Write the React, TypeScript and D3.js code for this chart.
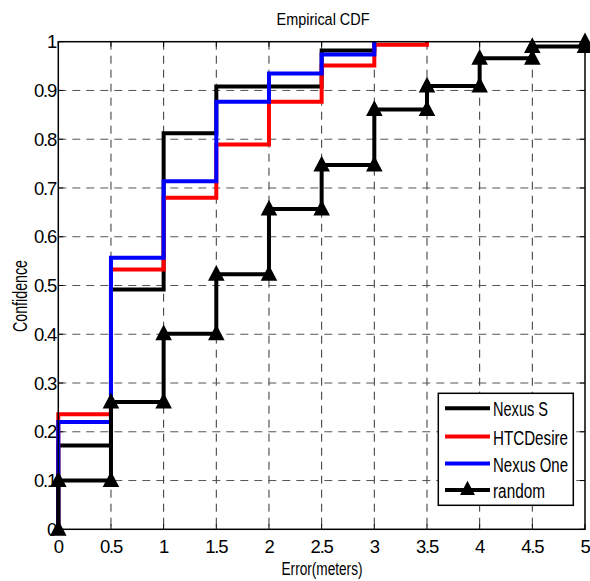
import React from "react";
import * as d3 from "d3";

const xTicks = [0, 0.5, 1, 1.5, 2, 2.5, 3, 3.5, 4, 4.5, 5];
const yTicks = [0, 0.1, 0.2, 0.3, 0.4, 0.5, 0.6, 0.7, 0.8, 0.9, 1];

const nexusSX = [0, 0, 0.5, 1, 1.5, 2.5, 3];
const nexusSY = [0, 0.172, 0.492, 0.812, 0.908, 0.982, 1];
const htcX = [0, 0, 0.5, 1, 1.5, 2, 2.5, 3, 3.5];
const htcY = [0, 0.236, 0.533, 0.68, 0.789, 0.877, 0.951, 0.994, 1];
const nexusOneX = [0, 0, 0.5, 1, 1.5, 2, 2.5, 3];
const nexusOneY = [0, 0.22, 0.557, 0.714, 0.877, 0.935, 0.974, 1];
const randomX = [0, 0, 0.5, 1, 1.5, 2, 2.5, 3, 3.5, 4, 4.5, 5];
const randomY = [0, 0.1, 0.261, 0.401, 0.523, 0.657, 0.747, 0.861, 0.909, 0.966, 0.99, 1];

const seriesNames = ["Nexus S", "HTCDesire", "Nexus One", "random"];
const seriesColors = ["#000000", "#ff0000", "#0000ff", "#000000"];
const legendWidths = [55, 75, 75, 52];

const W = 590, H = 581;
const L = 58.3, R = 585, T = 41.7, B = 529.3;
const FONT = "'Liberation Sans', Arial, Helvetica, sans-serif";

export default function App() {
  const x = d3.scaleLinear().domain([0, 5]).range([L, R]);
  const y = d3.scaleLinear().domain([0, 1]).range([B, T]);
  const line = d3
    .line<[number, number]>()
    .x((d) => x(d[0]))
    .y((d) => y(d[1]))
    .curve(d3.curveStepAfter);

  const zip = (xs: number[], ys: number[]) => xs.map((v, i) => [v, ys[i]] as [number, number]);
  const series = [
    zip(nexusSX, nexusSY),
    zip(htcX, htcY),
    zip(nexusOneX, nexusOneY),
    zip(randomX, randomY),
  ];
  const markers: [number, number][] = [];
  for (let i = 1; i < randomX.length; i++) {
    markers.push([randomX[i], randomY[i - 1]]);
    markers.push([randomX[i], randomY[i]]);
  }
  const tri = (cx: number, cy: number, s = 1) =>
    `M${cx},${cy - 6 * s}L${cx + 5.8 * s},${cy + 5 * s}L${cx - 5.8 * s},${cy + 5 * s}Z`;
  const fmt = (v: number) => String(+v.toFixed(1));

  const legX = 438.3, legY = 393.3, legW = 135, legH = 112;
  const rowY = [408.3, 436.5, 463.5, 490];
  const SX = 0.72;

  return (
    <svg
      width={W}
      height={H}
      style={{ position: "absolute", left: 0, top: 0, background: "#fff" }}
      fontFamily={FONT}
    >
      <rect x={0} y={0} width={W} height={H} fill="#fff" />
      {/* grid */}
      {xTicks.slice(1, -1).map((t) => (
        <line key={"gx" + t} x1={x(t)} x2={x(t)} y1={T} y2={B} stroke="#333" strokeWidth={1} strokeDasharray="8,6" />
      ))}
      {yTicks.slice(1, -1).map((t) => (
        <line key={"gy" + t} x1={L} x2={R} y1={y(t)} y2={y(t)} stroke="#555" strokeWidth={1} strokeDasharray="8,6" />
      ))}
      {/* ticks */}
      {xTicks.map((t) => (
        <g key={"tx" + t}>
          <line x1={x(t)} x2={x(t)} y1={B} y2={B - 5} stroke="#000" />
          <line x1={x(t)} x2={x(t)} y1={T} y2={T + 5} stroke="#000" />
          <text x={x(t)} y={553} fontSize={18.5} textAnchor="middle" letterSpacing={-1.2}>
            {fmt(t)}
          </text>
        </g>
      ))}
      {yTicks.map((t) => (
        <g key={"ty" + t}>
          <line x1={L} x2={L + 5} y1={y(t)} y2={y(t)} stroke="#000" />
          <line x1={R} x2={R - 5} y1={y(t)} y2={y(t)} stroke="#000" />
          <text x={56} y={y(t) + 6.7} fontSize={18.5} textAnchor="end" letterSpacing={-1.2}>
            {fmt(t)}
          </text>
        </g>
      ))}
      {/* series */}
      {series.map((s, i) => (
        <path key={"s" + i} d={line(s) || ""} fill="none" stroke={seriesColors[i]} strokeWidth={4} strokeLinejoin="miter" />
      ))}
      {markers.map((m, i) => (
        <path key={"m" + i} d={tri(x(m[0]), y(m[1]))} fill="#000" stroke="#000" strokeWidth={3} strokeLinejoin="miter" />
      ))}
      {/* axes box */}
      <rect x={L} y={T} width={R - L} height={B - T} fill="none" stroke="#000" strokeWidth={1.5} />
      {/* title & labels */}
      <g transform={`translate(323,24.5) scale(${SX},1)`}>
        <text x={0} y={0} fontSize={17} textAnchor="middle" textLength={93 / SX} lengthAdjust="spacingAndGlyphs">
          Empirical CDF
        </text>
      </g>
      <g transform={`translate(322,575) scale(${SX},1)`}>
        <text x={0} y={0} fontSize={19} textAnchor="middle" textLength={81 / SX} lengthAdjust="spacingAndGlyphs">
          Error(meters)
        </text>
      </g>
      <g transform={`translate(27,296) rotate(-90) scale(${SX},1)`}>
        <text x={0} y={0} fontSize={20} textAnchor="middle" textLength={72 / SX} lengthAdjust="spacingAndGlyphs">
          Confidence
        </text>
      </g>
      {/* legend */}
      <rect x={legX} y={legY} width={legW} height={legH} fill="#fff" stroke="#000" strokeWidth={1.5} />
      {seriesNames.map((n, i) => (
        <g key={"l" + i}>
          <line x1={445} x2={490} y1={rowY[i]} y2={rowY[i]} stroke={seriesColors[i]} strokeWidth={4} />
          {i === 3 && <path d={tri(467.5, rowY[i] - 1)} fill="#000" stroke="#000" strokeWidth={2} />}
          <g transform={`translate(493,${rowY[i] + 8}) scale(${SX},1)`}>
            <text x={0} y={0} fontSize={21} textLength={legendWidths[i] / SX} lengthAdjust="spacingAndGlyphs">
              {n}
            </text>
          </g>
        </g>
      ))}
    </svg>
  );
}
